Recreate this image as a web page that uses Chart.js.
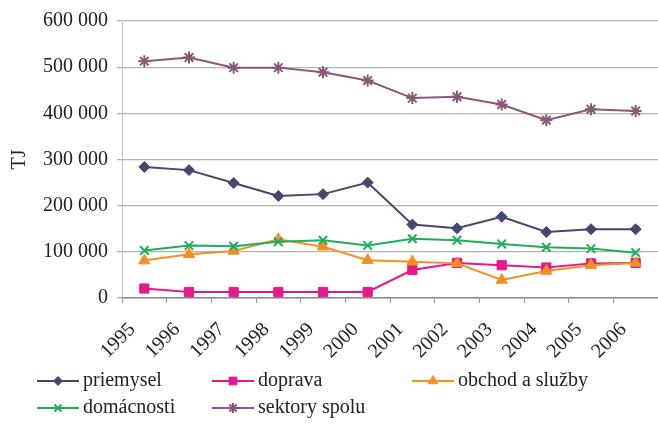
<!DOCTYPE html>
<html>
<head>
<meta charset="utf-8">
<script src="https://cdn.jsdelivr.net/npm/chart.js@4/dist/chart.umd.min.js"></script>
<style>
  body { margin: 0; background: #fff; }
  canvas { display: block; }
</style>
</head>
<body>
<canvas id="chart" width="658" height="425"></canvas>
<script>
// data (TJ)
const years = ["1995", "1996", "1997", "1998", "1999", "2000", "2001", "2002", "2003", "2004", "2005", "2006"];
const priemysel = [284000, 277000, 249000, 221000, 225000, 250000, 159000, 151000, 176000, 143000, 149000, 149000];
const doprava = [20600, 13000, 13000, 13000, 13000, 13000, 60600, 76000, 71000, 66000, 75000, 76000];
const obchodSluzby = [81000, 95000, 102000, 127000, 111000, 82000, 78500, 75000, 39000, 58500, 71000, 76000];
const domacnosti = [103000, 113500, 112000, 122000, 125000, 114000, 128500, 125000, 117000, 110000, 107000, 98000];
const sektorySpolu = [513000, 521000, 499000, 499000, 489000, 471000, 433000, 436000, 419000, 385000, 409000, 405000];

const seriesNames = ["priemysel", "doprava", "obchod a služby", "domácnosti", "sektory spolu"];
const seriesColors = ["#46466f", "#e5198a", "#f39021", "#1fae5c", "#8a5877"];
const seriesPoints = ["rectRot", "rect", "triangle", "crossRot", "star"];
const seriesRadius = [5.5, 6.5, 6.5, 6, 6];

const yMin = 0, yMax = 600000, yStep = 100000;

const FONT = "'Liberation Serif', 'Times New Roman', serif";

function fmt(v) {
    return String(v).replace(/\B(?=(\d{3})+(?!\d))/g, " ");
}

const allSeries = [priemysel, doprava, obchodSluzby, domacnosti, sektorySpolu];

const datasets = allSeries.map((vals, i) => ({
    label: seriesNames[i],
    data: vals,
    borderColor: seriesColors[i],
    backgroundColor: seriesColors[i],
    pointBackgroundColor: seriesColors[i],
    pointBorderColor: seriesColors[i],
    pointStyle: seriesPoints[i],
    pointRadius: seriesRadius[i],
    pointBorderWidth: (seriesPoints[i] === "crossRot" || seriesPoints[i] === "star") ? 2 : 1,
    borderWidth: 2,
    tension: 0,
    order: allSeries.length - i
}));

// legend laid out in columns like the original
const legendSlots = [
    { x: 37, y: 381 }, { x: 212, y: 381 }, { x: 412, y: 381 },
    { x: 37, y: 408 }, { x: 212, y: 408 }
];

const gridLegend = {
    id: "gridLegend",
    afterDraw(chart) {
        const ctx = chart.ctx;
        chart.data.datasets.forEach((ds, i) => {
            const s = legendSlots[i];
            ctx.save();
            ctx.strokeStyle = ds.borderColor;
            ctx.lineWidth = 2;
            ctx.beginPath();
            ctx.moveTo(s.x, s.y);
            ctx.lineTo(s.x + 42, s.y);
            ctx.stroke();
            ctx.fillStyle = ds.backgroundColor;
            ctx.lineWidth = ds.pointBorderWidth;
            Chart.helpers.drawPoint(ctx, {
                pointStyle: ds.pointStyle,
                radius: ds.pointRadius - 1,
                rotation: 0,
                borderWidth: ds.pointBorderWidth
            }, s.x + 21, s.y);
            ctx.fillStyle = "#222";
            ctx.font = "20px " + FONT;
            ctx.textBaseline = "middle";
            ctx.fillText(ds.label, s.x + 46, s.y);
            ctx.restore();
        });
    }
};

new Chart(document.getElementById("chart"), {
    type: "line",
    data: { labels: years, datasets: datasets },
    options: {
        responsive: false,
        animation: false,
        devicePixelRatio: 1,
        layout: { autoPadding: false, padding: { top: 18, right: 0, bottom: 52, left: 0 } },
        plugins: {
            legend: { display: false },
            tooltip: { enabled: false }
        },
        scales: {
            x: {
                offset: true,
                grid: {
                    offset: true,
                    drawOnChartArea: false,
                    drawTicks: true,
                    tickLength: 5,
                    color: "#999"
                },
                border: { color: "#8c8c8c", width: 1.5 },
                ticks: {
                    color: "#222",
                    font: { family: FONT, size: 20 },
                    maxRotation: 45,
                    minRotation: 45,
                    padding: 15,
                    labelOffset: -12,
                    autoSkip: false
                },
                afterFit(scale) {
                    scale.height = 75;
                    scale.paddingRight = 0;
                }
            },
            y: {
                min: yMin,
                max: yMax,
                grid: {
                    color: "#b3b3b3",
                    lineWidth: 1.3,
                    tickLength: 5
                },
                border: { color: "#c4c4c4", width: 1 },
                ticks: {
                    stepSize: yStep,
                    color: "#222",
                    padding: 9,
                    font: { family: FONT, size: 20 },
                    callback: v => fmt(v)
                },
                title: {
                    display: true,
                    text: "TJ",
                    color: "#222",
                    font: { family: FONT, size: 20 },
                    padding: { top: 8, bottom: 0 }
                },
                afterFit(scale) { scale.width = 122; }
            }
        }
    },
    plugins: [gridLegend]
});
</script>
</body>
</html>
